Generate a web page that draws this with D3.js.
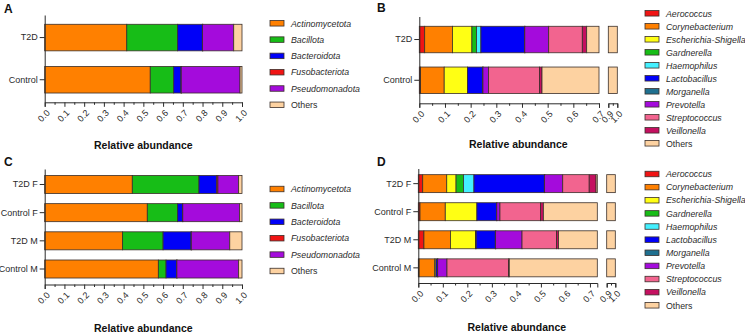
<!DOCTYPE html>
<html>
<head>
<meta charset="utf-8">
<script src="https://cdn.jsdelivr.net/npm/d3@7"></script>
<style>
  html, body { margin: 0; padding: 0; background: #fff; }
  svg { display: block; font-family: "Liberation Sans", Arial, sans-serif; }
</style>
</head>
<body>
<svg id="chart" width="745" height="333"></svg>
<script>
// ════════════════════════════════════════════
// Relative abundance — phyla (A, C) and genera (B, D)
// ════════════════════════════════════════════

// ── Taxa + colours ──
const phyla = ["Actinomycetota", "Bacillota", "Bacteroidota", "Fusobacteriota", "Pseudomonadota", "Others"];
const phylaColors = ["#FF8000", "#17BD17", "#0000F8", "#F01414", "#A40BDC", "#FDD2A1"];

const genera = ["Aerococcus", "Corynebacterium", "Escherichia-Shigella", "Gardnerella", "Haemophilus",
  "Lactobacillus", "Morganella", "Prevotella", "Streptococcus", "Veillonella", "Others"];
const generaColors = ["#F01414", "#FF8000", "#FFFF14", "#17BD17", "#44F0FF",
  "#0000F8", "#1F7090", "#A40BDC", "#F2648F", "#C41060", "#FDD2A1"];

// ── Groups ──
const groupsAB = ["T2D", "Control"];
const groupsCD = ["T2D F", "Control F", "T2D M", "Control M"];

// ── Phylum abundances (same order as phyla) ──
const phylaT2D = [0.416, 0.258, 0.125, 0.001, 0.158, 0.042];
const phylaControl = [0.535, 0.119, 0.037, 0.001, 0.298, 0.010];
const phylaT2DF = [0.444, 0.338, 0.090, 0.006, 0.105, 0.017];
const phylaControlF = [0.520, 0.154, 0.024, 0.002, 0.288, 0.012];
const phylaT2DM = [0.395, 0.205, 0.142, 0.001, 0.195, 0.062];
const phylaControlM = [0.576, 0.039, 0.054, 0.001, 0.313, 0.017];

// ── Genus abundances (same order as genera) ──
const genusT2D = [0.021, 0.108, 0.076, 0.018, 0.017, 0.170, 0.001, 0.093, 0.131, 0.017, 0.348];
const genusControl = [0.005, 0.092, 0.091, 0, 0, 0.059, 0.001, 0.022, 0.198, 0.010, 0.522];
const genusT2DF = [0.018, 0.098, 0.038, 0.030, 0.043, 0.287, 0.001, 0.074, 0.108, 0.028, 0.275];
const genusControlF = [0.007, 0.103, 0.129, 0, 0, 0.080, 0.001, 0.013, 0.165, 0.012, 0.490];
const genusT2DM = [0.023, 0.108, 0.102, 0.003, 0, 0.078, 0.001, 0.108, 0.141, 0.008, 0.428];
const genusControlM = [0.003, 0.064, 0.005, 0, 0, 0.006, 0.001, 0.038, 0.251, 0.003, 0.629];

// ── Axis ticks ──
const ticksFull = [0, 0.1, 0.2, 0.3, 0.4, 0.5, 0.6, 0.7, 0.8, 0.9, 1.0];
const minorFull = [0.05, 0.15, 0.25, 0.35, 0.45, 0.55, 0.65, 0.75, 0.85, 0.95];
const ticksLow = [0, 0.1, 0.2, 0.3, 0.4, 0.5, 0.6, 0.7];
const minorLow = [0.05, 0.15, 0.25, 0.35, 0.45, 0.55, 0.65];
const ticksHigh = [0.9, 1.0];
const minorHigh = [0.95];

const svg = d3.select("#chart");
const INK = "#2b2b2b";

function drawPanel(cfg) {
  const { letter, groups, values, keys, colors, segs, top, axisY, padIn, padOut, legend } = cfg;
  const left = segs[0].range[0];
  const right = segs[segs.length - 1].range[1];

  const g = svg.append("g");

  // ── Scales ──
  const y = d3.scaleBand().domain(groups).range([top, axisY])
    .paddingInner(padIn).paddingOuter(padOut);
  segs.forEach((s) => { s.x = d3.scaleLinear().domain(s.domain).range(s.range); });

  // ── Stack ──
  const table = groups.map((grp, i) => {
    const row = { group: grp };
    keys.forEach((k, j) => { row[k] = values[i][j]; });
    return row;
  });
  const series = d3.stack().keys(keys)(table);

  // ── Bars (split over broken axis segments) ──
  series.forEach((s, si) => {
    s.forEach((d) => {
      const [a, b] = d;
      if (b - a <= 0) return;
      segs.forEach((seg) => {
        const lo = Math.max(a, seg.domain[0]);
        const hi = Math.min(b, seg.domain[1]);
        if (hi <= lo) return;
        g.append("rect")
          .attr("x", seg.x(lo))
          .attr("y", y(d.data.group))
          .attr("width", Math.max(seg.x(hi) - seg.x(lo), 0.6))
          .attr("height", y.bandwidth())
          .attr("fill", colors[si])
          .attr("stroke", "#3a2f2a")
          .attr("stroke-width", 0.8);
      });
    });
  });

  // ── Y axis ──
  const yG = g.append("g")
    .attr("transform", `translate(${left},0)`)
    .call(d3.axisLeft(y).tickSize(5).tickSizeOuter(0).tickPadding(2));
  yG.selectAll("text").attr("fill", INK).attr("font-size", "9px").attr("font-family", null);

  // ── X axis (one piece per segment) ──
  segs.forEach((seg) => {
    const minG = g.append("g")
      .attr("transform", `translate(0,${axisY})`)
      .call(d3.axisBottom(seg.x).tickValues(seg.minor).tickSize(2.5).tickFormat(""));
    minG.select(".domain").remove();

    const xG = g.append("g")
      .attr("transform", `translate(0,${axisY})`)
      .call(d3.axisBottom(seg.x).tickValues(seg.ticks).tickSize(4.5).tickSizeOuter(4.5)
        .tickFormat(d3.format(".1f")));
    xG.selectAll("text")
      .attr("x", 0).attr("y", 0).attr("dy", "0.35em")
      .attr("text-anchor", "end")
      .attr("transform", "translate(3,9) rotate(-45)")
      .attr("fill", INK).attr("font-size", "9px").attr("font-family", null);
    [minG, xG].forEach((a) => a.selectAll("line,path").attr("stroke", INK));
  });
  yG.selectAll("line,path").attr("stroke", INK);
  svg.selectAll(".tick").attr("font-family", null);

  // ── Titles ──
  g.append("text")
    .attr("x", (left + right) / 2)
    .attr("y", cfg.titleY)
    .attr("text-anchor", "middle")
    .attr("font-size", "10.5px")
    .attr("font-weight", "700")
    .attr("fill", "#111")
    .text("Relative abundance");

  g.append("text")
    .attr("x", cfg.letterX)
    .attr("y", cfg.letterY)
    .attr("font-size", "12px")
    .attr("font-weight", "700")
    .attr("fill", "#111")
    .text(letter);

  // ── Legend ──
  keys.forEach((k, i) => {
    const cy = legend.y + i * legend.dy;
    g.append("rect")
      .attr("x", legend.x)
      .attr("y", cy - 2.75)
      .attr("width", 14)
      .attr("height", 5.5)
      .attr("fill", colors[i])
      .attr("stroke", "#3a2f2a")
      .attr("stroke-width", 0.8);
    g.append("text")
      .attr("x", legend.x + 21)
      .attr("y", cy + 3.2)
      .attr("font-size", "8.8px")
      .attr("font-style", k === "Others" ? "normal" : "italic")
      .attr("fill", INK)
      .text(k);
  });
}

// ── Panels ──
drawPanel({
  letter: "A", letterX: 4, letterY: 12.5, titleY: 148.5,
  groups: groupsAB, values: [phylaT2D, phylaControl], keys: phyla, colors: phylaColors,
  segs: [{ domain: [0, 1], range: [44.7, 242], ticks: ticksFull, minor: minorFull }],
  top: 15, axisY: 102.3, padIn: 0.37, padOut: 0.22,
  legend: { x: 270, y: 23.3, dy: 16.3 },
});

drawPanel({
  letter: "B", letterX: 377, letterY: 11.5, titleY: 148,
  groups: groupsAB, values: [genusT2D, genusControl], keys: genera, colors: generaColors,
  segs: [
    { domain: [0, 0.7], range: [419.3, 599], ticks: ticksLow, minor: minorLow },
    { domain: [0.9, 1.0], range: [608.3, 617.3], ticks: ticksHigh, minor: minorHigh },
  ],
  top: 16.5, axisY: 103.3, padIn: 0.35, padOut: 0.24,
  legend: { x: 645, y: 13.3, dy: 13 },
});

drawPanel({
  letter: "C", letterX: 4, letterY: 166, titleY: 331.5,
  groups: groupsCD, values: [phylaT2DF, phylaControlF, phylaT2DM, phylaControlM], keys: phyla, colors: phylaColors,
  segs: [{ domain: [0, 1], range: [44.7, 242], ticks: ticksFull, minor: minorFull }],
  top: 169, axisY: 284.5, padIn: 0.36, padOut: 0.23,
  legend: { x: 270, y: 189, dy: 16.4 },
});

drawPanel({
  letter: "D", letterX: 377, letterY: 165.5, titleY: 331,
  groups: groupsCD, values: [genusT2DF, genusControlF, genusT2DM, genusControlM], keys: genera, colors: generaColors,
  segs: [
    { domain: [0, 0.73], range: [418.3, 597.3], ticks: ticksLow, minor: minorLow },
    { domain: [0.9, 1.0], range: [606.7, 615.3], ticks: ticksHigh, minor: minorHigh },
  ],
  top: 168.5, axisY: 283, padIn: 0.36, padOut: 0.22,
  legend: { x: 645, y: 174, dy: 13.13 },
});
</script>
</body>
</html>
